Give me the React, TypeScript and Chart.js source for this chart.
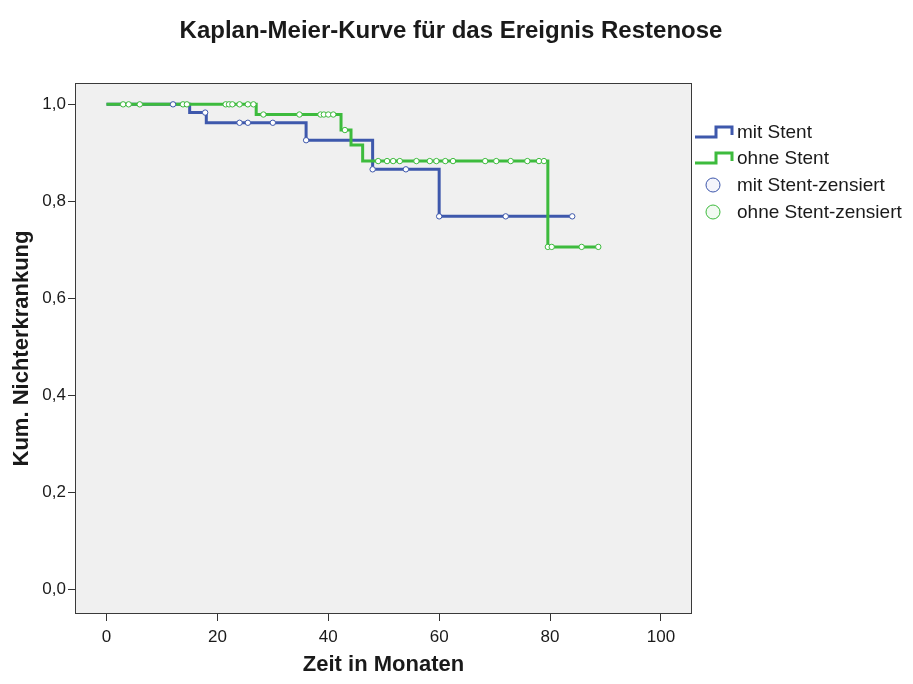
import { useEffect, useRef } from 'react';
import { Chart, registerables } from 'chart.js';

Chart.register(...registerables);

// Titles and labels
const chartTitle = 'Kaplan-Meier-Kurve für das Ereignis Restenose';
const xAxisTitle = 'Zeit in Monaten';
const yAxisTitle = 'Kum. Nichterkrankung';
const legendLabels = ['mit Stent', 'ohne Stent', 'mit Stent-zensiert', 'ohne Stent-zensiert'];

// Axis ticks
const xTicks = [0, 20, 40, 60, 80, 100];
const yTicks = [0, 0.2, 0.4, 0.6, 0.8, 1.0];

// Survival step function, group "mit Stent"
const mitTimes = [0, 15, 18, 36, 48, 60, 84];
const mitSurvival = [1.0, 0.983, 0.962, 0.926, 0.866, 0.769, 0.769];
// Censored cases, group "mit Stent"
const mitCensoredTimes = [12, 17.8, 24, 25.5, 30, 36, 48, 54, 60, 72, 84];
const mitCensoredSurvival = [1.0, 0.983, 0.962, 0.962, 0.962, 0.926, 0.866, 0.866, 0.769, 0.769, 0.769];

// Survival step function, group "ohne Stent"
const ohneTimes = [0, 27, 42.3, 44.1, 46.2, 79.6, 88.7];
const ohneSurvival = [1.0, 0.979, 0.947, 0.916, 0.883, 0.706, 0.706];
// Censored cases, group "ohne Stent"
const ohneCensoredTimes = [
  3, 4, 6, 13.8, 14.5, 21.5, 22.1, 22.7, 24, 25.5, 26.5,
  28.3, 34.8, 38.6, 39.2, 40, 40.9, 43,
  49, 50.6, 51.7, 52.9, 55.9, 58.3, 59.5, 61.1, 62.5, 68.3, 70.3, 72.9, 75.9, 78, 78.9,
  79.6, 80.3, 85.7, 88.7,
];
const ohneCensoredSurvival = [
  1.0, 1.0, 1.0, 1.0, 1.0, 1.0, 1.0, 1.0, 1.0, 1.0, 1.0,
  0.979, 0.979, 0.979, 0.979, 0.979, 0.979, 0.947,
  0.883, 0.883, 0.883, 0.883, 0.883, 0.883, 0.883, 0.883, 0.883, 0.883, 0.883, 0.883, 0.883, 0.883, 0.883,
  0.706, 0.706, 0.706, 0.706,
];

const BLUE = '#3E58AC';
const GREEN = '#3DBB3D';
const FONT = '"Liberation Sans", Arial, sans-serif';
const TEXT = '#1a1a1a';

const toPoints = (xs: number[], ys: number[]) => xs.map((x, i) => ({ x, y: ys[i] }));

const decorations = {
  id: 'spssDecorations',
  beforeDraw(chart: any) {
    const { ctx, chartArea, width, height } = chart;
    ctx.save();
    ctx.fillStyle = '#ffffff';
    ctx.fillRect(0, 0, width, height);
    ctx.fillStyle = '#F0F0F0';
    ctx.fillRect(chartArea.left, chartArea.top, chartArea.right - chartArea.left, chartArea.bottom - chartArea.top);
    ctx.restore();
  },
  afterDraw(chart: any) {
    const { ctx, chartArea } = chart;
    const { left, right, top, bottom } = chartArea;
    ctx.save();

    // plot frame
    ctx.strokeStyle = '#3a3a3a';
    ctx.lineWidth = 1;
    ctx.strokeRect(left + 0.5, top + 0.5, right - left - 1, bottom - top - 1);

    // chart title
    ctx.fillStyle = TEXT;
    ctx.textAlign = 'center';
    ctx.textBaseline = 'middle';
    ctx.font = `bold 24px ${FONT}`;
    ctx.fillText(chartTitle, 451, 31);

    // axis titles
    ctx.font = `bold 22px ${FONT}`;
    ctx.fillText(xAxisTitle, (left + right) / 2, 665);
    ctx.save();
    ctx.translate(22, (top + bottom) / 2);
    ctx.rotate(-Math.PI / 2);
    ctx.fillText(yAxisTitle, 0, 0);
    ctx.restore();

    // legend
    const rows = [132, 158, 185, 212];
    const colors = [BLUE, GREEN, BLUE, GREEN];
    ctx.textAlign = 'left';
    ctx.font = `19px ${FONT}`;
    legendLabels.forEach((label, i) => {
      const y = rows[i];
      if (i < 2) {
        ctx.strokeStyle = colors[i];
        ctx.lineWidth = 3;
        ctx.lineJoin = 'miter';
        ctx.beginPath();
        ctx.moveTo(695, y + 5);
        ctx.lineTo(716, y + 5);
        ctx.lineTo(716, y - 5);
        ctx.lineTo(732, y - 5);
        ctx.lineTo(732, y + 3);
        ctx.stroke();
      } else {
        ctx.strokeStyle = colors[i];
        ctx.lineWidth = 1;
        ctx.fillStyle = i === 2 ? '#f4f4fb' : '#f2faf2';
        ctx.beginPath();
        ctx.arc(713, y, 7, 0, Math.PI * 2);
        ctx.fill();
        ctx.stroke();
      }
      ctx.fillStyle = TEXT;
      ctx.fillText(label, 737, y + 1);
    });

    ctx.restore();
  },
};

export default function App() {
  const canvasRef = useRef<HTMLCanvasElement | null>(null);

  useEffect(() => {
    const canvas = canvasRef.current;
    if (!canvas) return;

    const lineDataset = (label: string, xs: number[], ys: number[], color: string, order: number) => ({
      label,
      data: toPoints(xs, ys),
      showLine: true,
      stepped: 'before' as const,
      borderColor: color,
      borderWidth: 3,
      pointRadius: 0,
      pointHoverRadius: 0,
      fill: false,
      order,
    });

    const censoredDataset = (label: string, xs: number[], ys: number[], color: string, order: number) => ({
      label,
      data: toPoints(xs, ys),
      showLine: false,
      pointStyle: 'circle' as const,
      pointRadius: 2.7,
      pointBorderWidth: 1,
      pointBackgroundColor: '#ffffff',
      pointBorderColor: color,
      backgroundColor: '#ffffff',
      borderColor: color,
      order,
    });

    const chart = new Chart(canvas, {
      type: 'scatter',
      data: {
        datasets: [
          lineDataset(legendLabels[0], mitTimes, mitSurvival, BLUE, 4),
          lineDataset(legendLabels[1], ohneTimes, ohneSurvival, GREEN, 3),
          censoredDataset(legendLabels[2], mitCensoredTimes, mitCensoredSurvival, BLUE, 2),
          censoredDataset(legendLabels[3], ohneCensoredTimes, ohneCensoredSurvival, GREEN, 1),
        ],
      },
      options: {
        animation: false,
        responsive: false,
        maintainAspectRatio: false,
        events: [],
        layout: { padding: { top: 83, right: 221, left: 0, bottom: 0 } },
        plugins: {
          legend: { display: false },
          title: { display: false },
          tooltip: { enabled: false },
        },
        scales: {
          x: {
            type: 'linear',
            min: -5.68,
            max: 105.6,
            afterBuildTicks: (scale: any) => {
              scale.ticks = xTicks.map((v) => ({ value: v }));
            },
            afterFit: (scale: any) => {
              scale.height = 70;
            },
            grid: {
              display: true,
              drawOnChartArea: false,
              drawTicks: true,
              tickLength: 7,
              color: '#333333',
              lineWidth: 1,
            },
            border: { display: false },
            ticks: {
              padding: 6,
              maxRotation: 0,
              color: TEXT,
              font: { family: FONT, size: 17 },
              callback: (v: any) => String(v),
            },
          },
          y: {
            type: 'linear',
            min: -0.051,
            max: 1.044,
            afterBuildTicks: (scale: any) => {
              scale.ticks = yTicks.map((v) => ({ value: v }));
            },
            afterFit: (scale: any) => {
              scale.width = 75;
            },
            grid: {
              display: true,
              drawOnChartArea: false,
              drawTicks: true,
              tickLength: 7,
              color: '#333333',
              lineWidth: 1,
            },
            border: { display: false },
            ticks: {
              padding: 2,
              color: TEXT,
              font: { family: FONT, size: 17 },
              callback: (v: any) => Number(v).toFixed(1).replace('.', ','),
            },
          },
        },
      },
      plugins: [decorations],
    });

    return () => chart.destroy();
  }, []);

  return (
    <div style={{ position: 'fixed', left: 0, top: 0, width: 913, height: 684, background: '#ffffff' }}>
      <canvas ref={canvasRef} width={913} height={684} style={{ display: 'block' }} />
    </div>
  );
}
